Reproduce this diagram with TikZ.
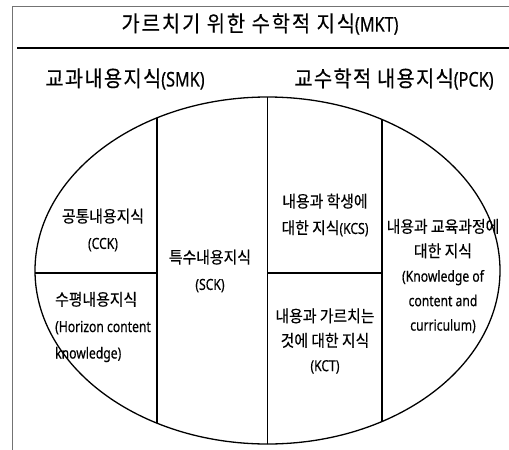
\documentclass[tikz,border=0pt]{standalone}
\usepackage{fontspec}
\setmainfont{Noto Sans CJK KR}[FakeStretch=0.9, FakeBold=0.4]
\newfontfamily\latfont{Noto Sans}[FakeStretch=0.8, Scale=0.92, FakeBold=0.4]
\newcommand\ltn[1]{{\latfont #1}}
\begin{document}
\begin{tikzpicture}[x=1pt,y=-1pt,
  frameline/.style={draw=black!55, line width=0.9pt},
  titlerule/.style={draw=black, line width=2pt},
  partline/.style={draw=black, line width=1.3pt},
  heading/.style={font=\fontsize{22}{26}\selectfont\addfontfeature{LetterSpace=6}, inner sep=0pt},
  maintitle/.style={font=\fontsize{22}{26}\selectfont\addfontfeature{LetterSpace=9}, inner sep=0pt},
  label/.style={font=\fontsize{16.5}{26.5}\selectfont, align=center, inner sep=0pt},
  tightlabel/.style={font=\fontsize{16.5}{24.5}\selectfont, align=center, inner sep=0pt},
]
\useasboundingbox (0,0) rectangle (509,450);
\fill[white] (0,0) rectangle (509,450);

% outer frame and the rule under the title
\draw[frameline] (12,450) -- (12,6) -- (509,6);
\draw[titlerule] (17,48) -- (509,48);

% headings
\node[maintitle] (mkt) at (260,24) {가르치기 위한 수학적 지식\ltn{(MKT)}};
\node[heading] (smk) at (125,79) {교과내용지식\ltn{(SMK)}};
\node[heading] (pck) at (394,79) {교수학적 내용지식\ltn{(PCK)}};

% the ellipse and its partitions
\coordinate (c) at (267.5,270.5);
\begin{scope}
  \clip (c) ellipse [x radius=232.5, y radius=173.5];
  \draw[partline] (157,60) -- (157,460);
  \draw[partline] (267.5,60) -- (267.5,460);
  \draw[partline] (382,60) -- (382,460);
  \draw[partline] (20,273) -- (157,273);
  \draw[partline] (267.5,273) -- (382,273);
\end{scope}
\draw[partline] (c) ellipse [x radius=232.5, y radius=173.5];

% compartment labels
\node[label] (cck) at (103,230) {공통내용지식\\\ltn{(CCK)}};
\node[label, align=left, anchor=west] (hck) at (55,327)
  {수평내용지식\\\ltn{(Horizon content}\\\ltn{knowledge)}};
\node[label] (sck) at (210,271) {특수내용지식\\\ltn{(SCK)}};
\node[label] (kcs) at (325,215) {내용과 학생에\\대한 지식\ltn{(KCS)}};
\node[tightlabel] (kct) at (325,341) {내용과 가르치는\\것에 대한 지식\\\ltn{(KCT)}};
\node[tightlabel] (kcc) at (443,276)
  {내용과 교육과정에\\대한 지식\\\ltn{(Knowledge of}\\\ltn{content and}\\\ltn{curriculum)}};
\end{tikzpicture}
\end{document}
